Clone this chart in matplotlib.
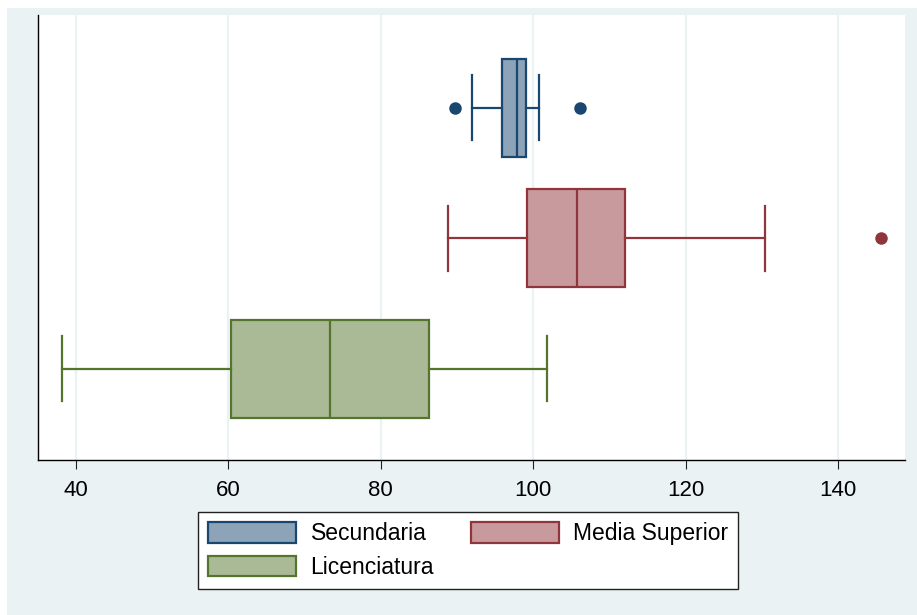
import matplotlib
matplotlib.use("Agg")
import matplotlib.pyplot as plt
from matplotlib.patches import Rectangle, Patch

plt.rcParams['font.family'] = ['Liberation Sans', 'DejaVu Sans']

# Data
groups = ["Secundaria", "Media Superior", "Licenciatura"]
q1 = [95.9, 99.2, 60.3]
medians = [97.9, 105.7, 73.3]
q3 = [99.0, 112.1, 86.3]
whis_lo = [92.0, 88.75, 38.2]
whis_hi = [100.7, 130.4, 101.75]
outliers = [[89.7, 106.1], [145.6], []]
xticks = [40, 60, 80, 100, 120, 140]

edge_colors = ["#1A476F", "#90353B", "#55752F"]
fill_colors = ["#8DA3B7", "#C89A9D", "#AABA97"]
positions = [3, 2, 1]

W, H = 917, 615
fig = plt.figure(figsize=(W / 100, H / 100), dpi=100, facecolor="white")
bg = "#EAF2F3"
fig.patches.append(Rectangle((7 / W, 0), 1 - 7 / W, 1 - 8 / H,
                             transform=fig.transFigure, facecolor=bg,
                             edgecolor="none", zorder=-10))

ax = fig.add_axes([38 / W, 155 / H, 867 / W, 445 / H])
ax.set_facecolor("white")

for i in range(3):
    stats = [dict(med=medians[i], q1=q1[i], q3=q3[i], whislo=whis_lo[i],
                  whishi=whis_hi[i], fliers=outliers[i], label=groups[i])]
    ec, fc = edge_colors[i], fill_colors[i]
    ax.bxp(stats, positions=[positions[i]], widths=0.75, capwidths=0.5,
           orientation="horizontal", patch_artist=True, manage_ticks=False,
           boxprops=dict(facecolor=fc, edgecolor=ec, linewidth=1.6),
           medianprops=dict(color=ec, linewidth=1.6),
           whiskerprops=dict(color=ec, linewidth=1.6),
           capprops=dict(color=ec, linewidth=1.6),
           flierprops=dict(marker="o", markerfacecolor=ec, markeredgecolor=ec,
                           markersize=8, linestyle="none"))

ax.set_xlim(35.0, 148.8)
ax.set_ylim(0.30, 3.71)
ax.set_xticks(xticks)
ax.set_xticklabels([str(t) for t in xticks], fontsize=16)
ax.set_yticks([])
ax.tick_params(axis="x", length=6.5, width=0.8, color="#222222", pad=8, labelcolor="black")
ax.grid(axis="x", color=bg, linewidth=1.6, zorder=0)
ax.set_axisbelow(True)
for s in ["top", "right"]:
    ax.spines[s].set_visible(False)
for s in ["left", "bottom"]:
    ax.spines[s].set_color("black")
    ax.spines[s].set_linewidth(1.0)

handles = [Patch(facecolor=fill_colors[0], edgecolor=edge_colors[0], linewidth=1.6, label=groups[0]),
           Patch(facecolor=fill_colors[2], edgecolor=edge_colors[2], linewidth=1.6, label=groups[2]),
           Patch(facecolor=fill_colors[1], edgecolor=edge_colors[1], linewidth=1.6, label=groups[1])]
leg = fig.legend(handles=handles, ncol=2, loc="upper left",
                 bbox_to_anchor=(198 / W, 1 - 512 / H), fontsize=16.5,
                 frameon=True, fancybox=False, shadow=False,
                 handlelength=3.84, handleheight=1.0, handletextpad=0.62,
                 columnspacing=1.6, labelspacing=0.45, borderpad=0.45,
                 borderaxespad=0)
leg.get_frame().set_edgecolor("#222222")
leg.get_frame().set_linewidth(1.0)
leg.get_frame().set_facecolor("white")
leg.get_frame().set_alpha(1.0)

fig.savefig("out.png", dpi=100, facecolor="white")
